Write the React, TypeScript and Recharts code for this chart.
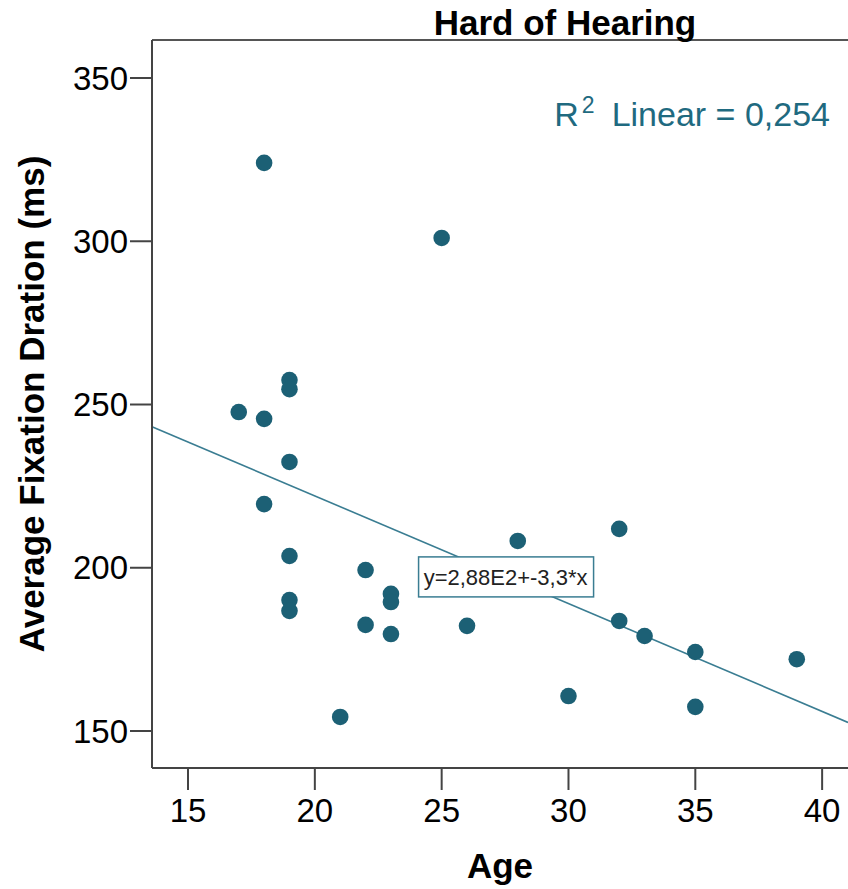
import {
  ScatterChart,
  Scatter,
  XAxis,
  YAxis,
  ReferenceLine,
  ReferenceDot,
} from "recharts";

// Age (x) and average fixation duration in ms (y)
const ages = [18, 25, 19, 19, 17, 18, 19, 18, 19, 19, 19, 22, 22, 23, 23, 23, 21, 26, 28, 30, 32, 32, 33, 35, 35, 39];
const durations = [324, 301, 257.5, 254.7, 247.7, 245.6, 232.4, 219.5, 203.6, 190.1, 186.8, 199.3, 182.5, 192, 189.5, 179.7, 154.3, 182.2, 208.2, 160.7, 211.9, 183.7, 179.1, 174.2, 157.4, 172];

const xTicks = [15, 20, 25, 30, 35, 40];
const yTicks = [150, 200, 250, 300, 350];
const xDomain = [13.58, 41.02];
const yDomain = [138.67, 361.64];

// fit line y = 2,88E2 + -3,3*x
const intercept = 288;
const slope = -3.3;
const fitLabel = "y=2,88E2+-3,3*x";
const fitLabelAt = { x: 27.52, y: 197.2 };

const title = "Hard of Hearing";
const r2Text = "0,254";

const data = ages.map((age, i) => ({ age, dur: durations[i] }));

const FONT = "'Liberation Sans', Arial, sans-serif";
const DOT = "#1c6075";
const LINE = "#3a7d92";

export default function App() {
  return (
    <div style={{ position: "absolute", left: 0, top: 0, background: "#fff" }}>
      <ScatterChart
        width={848}
        height={889}
        margin={{ top: 40, right: 0, bottom: 0, left: 0 }}
        style={{ fontFamily: FONT }}
      >
        <XAxis
          type="number"
          dataKey="age"
          domain={xDomain}
          ticks={xTicks}
          allowDataOverflow
          height={121}
          tickSize={22}
          tickMargin={9}
          axisLine={{ stroke: "#444", strokeWidth: 2 }}
          tickLine={{ stroke: "#444", strokeWidth: 2 }}
          tick={{ fill: "#000", fontSize: 33 }}
          label={{
            content: (p: any) => (
              <text
                x={p.viewBox.x + p.viewBox.width / 2}
                y={p.viewBox.y + 110}
                textAnchor="middle"
                fontSize={35}
                fontWeight="bold"
                fill="#000"
              >
                Age
              </text>
            ),
          }}
        />
        <YAxis
          type="number"
          dataKey="dur"
          domain={yDomain}
          ticks={yTicks}
          allowDataOverflow
          width={152}
          tickSize={22}
          tickMargin={2}
          axisLine={{ stroke: "#444", strokeWidth: 2 }}
          tickLine={{ stroke: "#444", strokeWidth: 2 }}
          tick={{ fill: "#000", fontSize: 33 }}
          label={{
            content: (p: any) => {
              const cx = p.viewBox.x + 31;
              const cy = p.viewBox.y + p.viewBox.height / 2;
              return (
                <text
                  x={cx}
                  y={cy}
                  transform={`rotate(-90 ${cx} ${cy})`}
                  textAnchor="middle"
                  dominantBaseline="central"
                  fontSize={35}
                  fontWeight="bold"
                  fill="#000"
                >
                  Average Fixation Dration (ms)
                </text>
              );
            },
          }}
        />
        <ReferenceLine
          y={yDomain[1]}
          stroke="#555"
          strokeWidth={2}
          label={{
            content: (p: any) => (
              <g>
                <text
                  x={p.viewBox.x + 413}
                  y={p.viewBox.y - 5}
                  textAnchor="middle"
                  fontSize={35}
                  fontWeight="bold"
                  fill="#000"
                >
                  {title}
                </text>
                <text
                  x={p.viewBox.x + p.viewBox.width - 18}
                  y={p.viewBox.y + 86}
                  textAnchor="end"
                  fontSize={34}
                  fill="#1f6a80"
                >
                  R
                  <tspan fontSize={23} dx={3} dy={-13}>2</tspan>
                  <tspan dx={17} dy={13}>{"Linear = " + r2Text}</tspan>
                </text>
              </g>
            ),
          }}
        />
        <ReferenceLine
          segment={[
            { x: xDomain[0], y: intercept + slope * xDomain[0] },
            { x: xDomain[1], y: intercept + slope * xDomain[1] },
          ]}
          stroke={LINE}
          strokeWidth={1.6}
        />
        <Scatter
          data={data}
          isAnimationActive={false}
          shape={(p: any) => <circle cx={p.cx} cy={p.cy} r={8.3} fill={DOT} />}
        />
        <ReferenceDot
          x={fitLabelAt.x}
          y={fitLabelAt.y}
          shape={(p: any) => (
            <g>
              <rect
                x={p.cx - 87}
                y={p.cy - 20}
                width={175}
                height={40}
                fill="#fff"
                stroke={LINE}
                strokeWidth={1.5}
              />
              <text
                x={p.cx}
                y={p.cy + 8}
                textAnchor="middle"
                fontSize={22}
                fill="#222"
              >
                {fitLabel}
              </text>
            </g>
          )}
        />
      </ScatterChart>
    </div>
  );
}
